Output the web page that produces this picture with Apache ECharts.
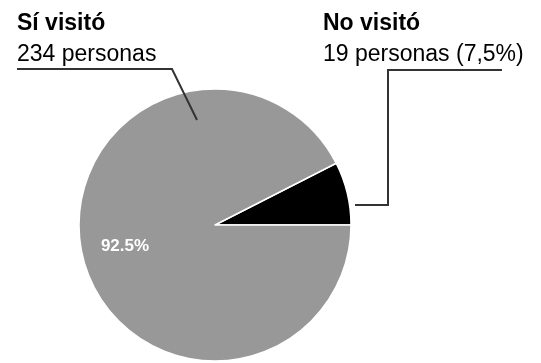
<!DOCTYPE html>
<html>
<head>
<meta charset="utf-8">
<script src="https://cdn.jsdelivr.net/npm/echarts@6/dist/echarts.min.js"></script>
<style>
	html, body { margin: 0; padding: 0; background: #fff; }
	#chart { width: 541px; height: 363px; }
</style>
</head>
<body>
<div id="chart"></div>
<script>
// datos
const categorias = ['No visitó', 'Sí visitó'];
const personas = [19, 234];
const colores = ['#000000', '#989898'];

const total = personas.reduce((a, b) => a + b, 0);
const pct = (v) => (v / total * 100).toFixed(1);

const chart = echarts.init(document.getElementById('chart'));

// posicion de etiquetas y lineas guia
const etiquetas = [
	{ x: 323, y: 8, puntos: [[355, 205], [388, 205], [388, 70], [502, 70]] },
	{ x: 17, y: 8, puntos: [[197, 120], [172, 69], [17, 69]] }
];

chart.setOption({
	animation: false,
	series: [
		{
			// sectores + porcentaje dentro del gris
			type: 'pie',
			z: 2,
			center: [215, 225],
			radius: 136,
			startAngle: 27,
			clockwise: true,
			avoidLabelOverlap: false,
			itemStyle: { borderColor: '#fff', borderWidth: 1.5 },
			label: {
				show: true,
				position: 'inside',
				formatter: (p) => p.dataIndex === 1 ? pct(p.value) + '%' : '',
				fontFamily: 'Liberation Sans',
				fontSize: 17,
				fontWeight: 'bold',
				color: '#fff'
			},
			labelLine: { show: false },
			labelLayout: (p) => ({ x: 125, y: 246, align: 'center', verticalAlign: 'middle' }),
			emphasis: { disabled: true },
			data: categorias.map((c, i) => ({ name: c, value: personas[i], itemStyle: { color: colores[i] } }))
		},
		{
			// etiquetas exteriores (capa transparente encima)
			type: 'pie',
			z: 5,
			center: [215, 225],
			radius: 136,
			startAngle: 27,
			clockwise: true,
			silent: true,
			avoidLabelOverlap: false,
			itemStyle: { color: 'rgba(0,0,0,0)', borderWidth: 0 },
			label: {
				show: true,
				position: 'outside',
				formatter: (p) => p.dataIndex === 0
					? '{b|' + p.name + '}\n{n|' + p.value + ' personas (' + pct(p.value).replace('.', ',') + '%)}'
					: '{b|' + p.name + '}\n{n|' + p.value + ' personas}',
				rich: {
					b: { fontFamily: 'Liberation Sans', fontSize: 23, fontWeight: 'bold', color: '#000', lineHeight: 31 },
					n: { fontFamily: 'Liberation Sans', fontSize: 23, color: '#000', lineHeight: 31 }
				}
			},
			labelLine: { show: true, lineStyle: { color: '#333', width: 2 } },
			labelLayout: (p) => ({
				x: etiquetas[p.dataIndex].x,
				y: etiquetas[p.dataIndex].y,
				align: 'left',
				verticalAlign: 'top',
				labelLinePoints: etiquetas[p.dataIndex].puntos
			}),
			emphasis: { disabled: true },
			data: categorias.map((c, i) => ({ name: c, value: personas[i] }))
		}
	]
});
</script>
</body>
</html>
